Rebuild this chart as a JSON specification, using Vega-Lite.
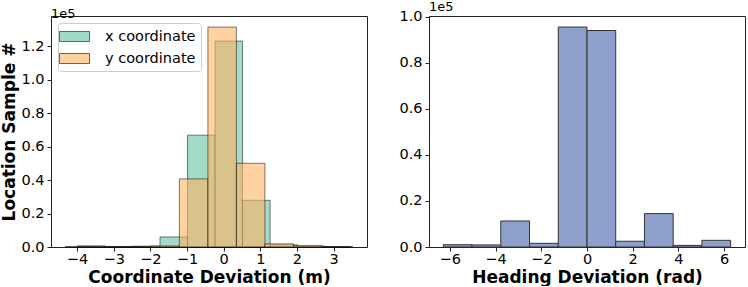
{
  "$schema": "https://vega.github.io/schema/vega-lite/v6.json",
  "padding": {"left": 0, "top": 0, "right": 0, "bottom": 0},
  "spacing": 30,
  "config": {
    "font": "DejaVu Sans",
    "view": {"stroke": "#222", "strokeWidth": 1},
    "axis": {
      "labelFontSize": 14.5, "titleFontSize": 17, "titleFontWeight": "bold",
      "labelColor": "#000", "titleColor": "#000", "domainColor": "#222", "tickColor": "#222",
      "tickSize": 4, "grid": false, "labelPadding": 1, "labelFont": "DejaVu Sans", "titleFont": "DejaVu Sans"
    },
    "title": {"fontSize": 13, "fontWeight": "normal", "anchor": "start", "frame": "group", "offset": -5, "color": "#000", "font": "DejaVu Sans"}
  },
  "datasets": {
    "coord": [
      {"series": "x coordinate", "start": -3.99, "end": -3.239, "count": 700},
      {"series": "x coordinate", "start": -3.239, "end": -2.488, "count": 300},
      {"series": "x coordinate", "start": -2.488, "end": -1.737, "count": 500},
      {"series": "x coordinate", "start": -1.737, "end": -0.986, "count": 6000},
      {"series": "x coordinate", "start": -0.986, "end": -0.235, "count": 66800},
      {"series": "x coordinate", "start": -0.235, "end": 0.516, "count": 123000},
      {"series": "x coordinate", "start": 0.516, "end": 1.267, "count": 27900},
      {"series": "x coordinate", "start": 1.267, "end": 2.018, "count": 1300},
      {"series": "x coordinate", "start": 2.018, "end": 2.769, "count": 500},
      {"series": "x coordinate", "start": 2.769, "end": 3.52, "count": 200},
      {"series": "y coordinate", "start": -4.32, "end": -3.542, "count": 300},
      {"series": "y coordinate", "start": -3.542, "end": -2.764, "count": 200},
      {"series": "y coordinate", "start": -2.764, "end": -1.986, "count": 200},
      {"series": "y coordinate", "start": -1.986, "end": -1.208, "count": 600},
      {"series": "y coordinate", "start": -1.208, "end": -0.43, "count": 40700},
      {"series": "y coordinate", "start": -0.43, "end": 0.348, "count": 131400},
      {"series": "y coordinate", "start": 0.348, "end": 1.126, "count": 50000},
      {"series": "y coordinate", "start": 1.126, "end": 1.904, "count": 1900},
      {"series": "y coordinate", "start": 1.904, "end": 2.682, "count": 800},
      {"series": "y coordinate", "start": 2.682, "end": 3.46, "count": 200}
    ],
    "heading": [
      {"start": -6.2832, "end": -5.0265, "count": 1000},
      {"start": -5.0265, "end": -3.7699, "count": 900},
      {"start": -3.7699, "end": -2.5133, "count": 11300},
      {"start": -2.5133, "end": -1.2566, "count": 1600},
      {"start": -1.2566, "end": 0, "count": 95500},
      {"start": 0, "end": 1.2566, "count": 94000},
      {"start": 1.2566, "end": 2.5133, "count": 2500},
      {"start": 2.5133, "end": 3.7699, "count": 14500},
      {"start": 3.7699, "end": 5.0265, "count": 700},
      {"start": 5.0265, "end": 6.2832, "count": 2900}
    ]
  },
  "hconcat": [
    {
      "title": "1e5",
      "width": 316,
      "height": 231,
      "data": {"name": "coord"},
      "mark": {"type": "bar", "fillOpacity": 0.6, "stroke": "#000", "strokeOpacity": 0.5, "strokeWidth": 1},
      "encoding": {
        "x": {"field": "start", "type": "quantitative",
              "scale": {"domain": [-4.71, 3.91], "nice": false, "zero": false},
              "axis": {"values": [-4, -3, -2, -1, 0, 1, 2, 3], "title": "Coordinate Deviation (m)", "titlePadding": 4}},
        "x2": {"field": "end"},
        "y": {"field": "count", "type": "quantitative", "stack": null,
              "scale": {"domain": [0, 138000], "nice": false},
              "axis": {"values": [0, 20000, 40000, 60000, 80000, 100000, 120000], "labelExpr": "format(datum.value/100000, '.1f')", "title": "Location Sample #", "titlePadding": 2, "labelPadding": 3}},
        "y2": {"datum": 0},
        "color": {"field": "series", "type": "nominal",
                  "scale": {"domain": ["x coordinate", "y coordinate"], "range": ["#66c2a5", "#fdb462"]},
                  "legend": {"title": null, "orient": "top-left", "offset": 7, "labelFontSize": 14.5, "labelColor": "#000",
                             "symbolType": "M-1.875,-0.625H1.875V0.625H-1.875Z", "symbolSize": 256,
                             "symbolOpacity": 0.6, "symbolStrokeColor": "#000", "symbolStrokeWidth": 1,
                             "symbolOffset": 3, "labelOffset": 22, "rowPadding": 6, "padding": 5,
                             "strokeColor": "#ccc", "fillColor": "#fff", "cornerRadius": 3}}
      }
    },
    {
      "title": "1e5",
      "width": 316,
      "height": 231,
      "data": {"name": "heading"},
      "mark": {"type": "bar", "fill": "#8da0cb", "stroke": "#333", "strokeWidth": 1},
      "encoding": {
        "x": {"field": "start", "type": "quantitative",
              "scale": {"domain": [-6.91, 6.91], "nice": false, "zero": false},
              "axis": {"values": [-6, -4, -2, 0, 2, 4, 6], "title": "Heading Deviation (rad)", "titlePadding": 4}},
        "x2": {"field": "end"},
        "y": {"field": "count", "type": "quantitative", "stack": null,
              "scale": {"domain": [0, 100300], "nice": false},
              "axis": {"values": [0, 20000, 40000, 60000, 80000, 100000], "labelExpr": "format(datum.value/100000, '.1f')", "title": null, "labelPadding": 3}},
        "y2": {"datum": 0}
      }
    }
  ]
}
